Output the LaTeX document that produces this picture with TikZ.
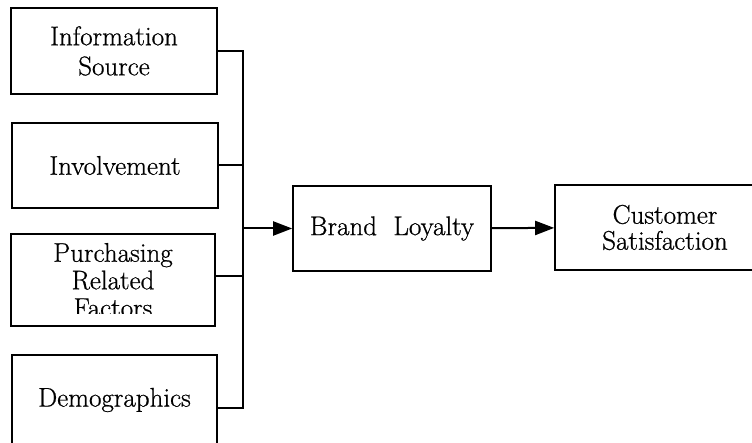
\documentclass[tikz,border=0pt]{standalone}
\usepackage{fontspec}
\newfontfamily\boxfont{Latin Modern Roman}[FakeBold=0.7]
\usetikzlibrary{arrows.meta}
\begin{document}
\begin{tikzpicture}[
    x=1pt, y=-1pt,
    box/.style={draw, line width=1.6pt, align=center, inner sep=0pt,
      minimum width=206pt, minimum height=86pt,
      font=\boxfont\fontsize{27}{27.5}\selectfont},
    link/.style={line width=2pt},
    arrow/.style={link, -{Triangle[length=19pt,width=14pt]}}
  ]
    \useasboundingbox (0,0) rectangle (752,443);
    % factors on the left
    \node[box] (info) at (114,51) {Information\\[2.5pt]Source};
    \node[box, minimum height=85pt] (invol) at (115,165.5) {Involvement};
    \node[box, minimum width=204pt, minimum height=92pt] (purch) at (113,280)
      {Purchasing\\Related\\Factors};
    \node[box, minimum width=205pt, minimum height=90pt] (demog) at (114.5,400)
      {Demographics};
    % bottom of the last line is lost in the box
    \fill[white] ([xshift=2.5pt,yshift=2.5pt]purch.south west)
      rectangle ([xshift=-2.5pt,yshift=12.5pt]purch.south east);
    \node[box, minimum width=198pt, minimum height=85pt] (brand) at (392,228.5)
      {Brand~~Loyalty};
    \node[box, minimum width=220pt, minimum height=85pt,
      font=\boxfont\fontsize{27}{26}\selectfont] (cust) at (665,227.5)
      {Customer\\Satisfaction};

    \coordinate (bus) at (243,0);
    \coordinate (purchout) at ([yshift=4pt]purch.east);
    \coordinate (demout) at ([yshift=-8pt]demog.east);
    \draw[link] (info.east) -- (info.east -| bus) -- (demout -| bus) -- (demout);
    \draw[link] (invol.east) -- (invol.east -| bus);
    \draw[link] (purchout) -- (purchout -| bus);
    \draw[arrow] (brand.west -| bus) -- (brand.west);
    \draw[arrow] (brand) -- (cust);
\end{tikzpicture}
\end{document}
